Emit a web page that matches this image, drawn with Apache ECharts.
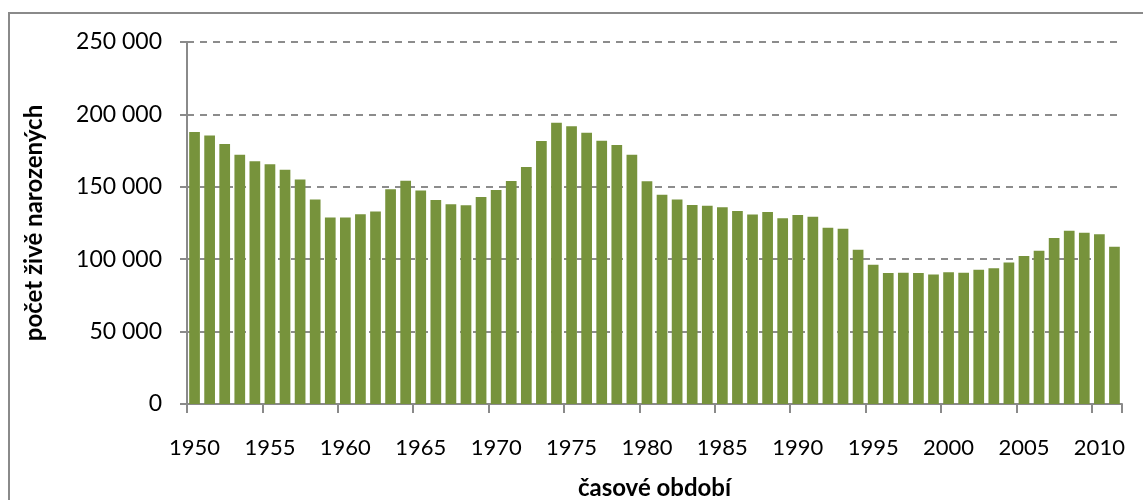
<!DOCTYPE html>
<html>
<head>
<meta charset="utf-8">
<script src="https://cdn.jsdelivr.net/npm/echarts@6/dist/echarts.min.js"></script>
<style>
  html, body { margin: 0; padding: 0; background: #fff; }
  #chart { width: 1143px; height: 500px; }
</style>
</head>
<body>
<div id="chart"></div>
<script>
// Live births per year, 1950–2011
const years = [];
for (let y = 1950; y <= 2011; y++) years.push(String(y));

const births = [
  187876, 185419, 179507, 172150, 167707, 165622, 161812, 155047, 141309, 128880,
  128879, 131019, 132993, 148314, 154211, 147418, 140881, 138022, 137297, 143032,
  147865, 154011, 163670, 181582, 194215, 191776, 187378, 181763, 178901, 172112,
  153801, 144438, 141200, 137431, 136941, 135881, 133356, 130921, 132667, 128356,
  130564, 129354, 121705, 121025, 106579, 96097, 90446, 90657, 90535, 89471,
  90910, 90715, 92786, 93685, 97664, 102211, 105831, 114632, 119570, 118348,
  117153, 108673
];

const yTicks = [0, 50000, 100000, 150000, 200000, 250000];

const FONT = 'Lato, "Open Sans", sans-serif';
const fmt = v => v === 0 ? '0' : String(v).replace(/\B(?=(\d{3})+(?!\d))/g, ' ');

const chart = echarts.init(document.getElementById('chart'));
chart.setOption({
  animation: false,
  backgroundColor: '#ffffff',
  graphic: [{
    type: 'rect',
    silent: true,
    shape: { x: 9, y: 13, width: 1200, height: 600 },
    style: { fill: 'none', stroke: '#8a8a8a', lineWidth: 2 }
  }],
  grid: { left: 187, right: 21, top: 42, bottom: 96, containLabel: false, outerBoundsMode: 'none' },
  xAxis: {
    type: 'category',
    data: years,
    boundaryGap: true,
    name: 'časové období',
    nameLocation: 'middle',
    nameGap: 72,
    nameTextStyle: { fontFamily: FONT, fontSize: 24, fontWeight: 'bold', color: '#000' },
    axisLine: { show: true, lineStyle: { color: '#8a8a8a', width: 2 } },
    axisTick: { show: true, interval: 4, length: 9, alignWithLabel: false, lineStyle: { color: '#8a8a8a', width: 2 } },
    axisLabel: { interval: 4, margin: 33, fontFamily: FONT, fontSize: 22, color: '#000' },
    splitLine: { show: false }
  },
  yAxis: {
    type: 'value',
    min: yTicks[0],
    max: yTicks[yTicks.length - 1],
    interval: yTicks[1] - yTicks[0],
    name: 'počet živě narozených',
    nameLocation: 'middle',
    nameRotate: 90,
    nameGap: 141,
    nameTextStyle: { fontFamily: FONT, fontSize: 24, fontWeight: 'bold', color: '#000' },
    axisLine: { show: true, lineStyle: { color: '#8a8a8a', width: 2 } },
    axisTick: { show: true, length: 7, lineStyle: { color: '#8a8a8a', width: 2 } },
    axisLabel: { margin: 25, fontFamily: FONT, fontSize: 23, color: '#000', formatter: fmt },
    splitLine: { show: true, lineStyle: { color: '#8c8c8c', width: 2, type: [7, 6] } }
  },
  series: [{
    type: 'bar',
    data: births,
    barCategoryGap: '29%',
    itemStyle: { color: '#77933c' }
  }]
});
</script>
</body>
</html>
